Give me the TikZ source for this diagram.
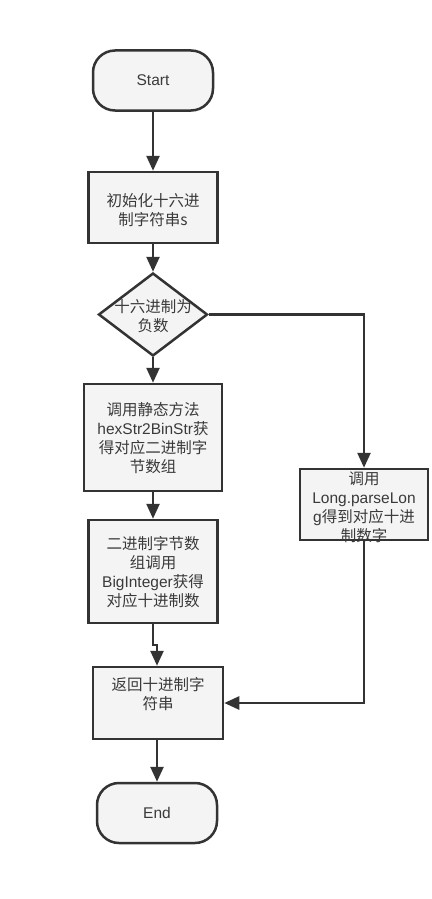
\documentclass[tikz,border=0pt]{standalone}
\usepackage{fontspec}
\setmainfont{Liberation Sans}
\newfontfamily\cjk{Noto Sans CJK SC}
\usetikzlibrary{arrows.meta,shapes.geometric}
\definecolor{edge}{HTML}{333333}
\definecolor{boxfill}{HTML}{F4F4F4}
\definecolor{txt}{HTML}{3A3A3A}
\tikzset{
  base/.style={draw=edge, line width=2.5pt, fill=boxfill, inner sep=0pt},
  terminal/.style={base, rounded corners=22pt, minimum width=120pt, minimum height=60pt},
  procbox/.style={base, rectangle},
  label/.style={text=txt, align=center, font=\fontsize{15.5}{19}\selectfont, inner sep=0pt},
  flow/.style={draw=edge, line width=2.5pt, -{Triangle[length=15pt,width=13pt]}},
}
\begin{document}
\begin{tikzpicture}[x=1pt, y=-1pt]
\useasboundingbox (0,0) rectangle (431,899);

% terminals
\node[terminal] (start) at (153,80.5) {};
\node[label] at (start) {Start};
\node[terminal] (stop) at (157,813) {};
\node[label] at (stop) {End};

% process boxes
\node[procbox, minimum width=129pt, minimum height=71pt] (init) at (153,207.5) {};
\node[label] at (153,210) {\cjk 初始化十六进\\\cjk 制字符串{s}};

\node[base, diamond, minimum width=109pt, minimum height=83pt] (neg) at (153,314.5) {};
\node[label] at (153,316) {\cjk 十六进制为\\\cjk 负数};

\node[procbox, minimum width=138pt, minimum height=107pt] (hex) at (153,437.5) {};
\node[label] at (153,438) {\cjk 调用静态方法\\hexStr2BinStr{\cjk 获}\\\cjk 得对应二进制字\\\cjk 节数组};

\node[procbox, minimum width=128pt, minimum height=71pt] (long) at (364,504.5) {};
\node[label] at (364,507) {\cjk 调用\\Long.parseLon\\g{\cjk 得到对应十进}\\\cjk 制数字};

\node[procbox, minimum width=129pt, minimum height=103pt] (big) at (153,571.5) {};
\node[label] at (153,572) {\cjk 二进制字节数\\\cjk 组调用\\BigInteger{\cjk 获得}\\\cjk 对应十进制数};

\node[procbox, minimum width=130pt, minimum height=72pt] (ret) at (158,703) {};
\node[label] at (158,694) {\cjk 返回十进制字\\\cjk 符串};

% connectors
\coordinate (jogA) at (153,645);
\coordinate (jogB) at (157,645);
\coordinate (turnR) at (364,314.5);
\coordinate (turnD) at (364,703);

\draw[flow] (start.south) -- (init.north);
\draw[flow] (init.south) -- (neg.north);
\draw[flow] (neg.south) -- (hex.north);
\draw[flow] (neg.east) -- (turnR) -- (long.north);
\draw[flow] (hex.south) -- (big.north);
\draw[flow] (big.south) -- (jogA) -- (jogB) -- (ret.north -| jogB);
\draw[flow] (long.south) -- (turnD) -- (ret.east);
\draw[flow] (ret.south -| stop.north) -- (stop.north);
\end{tikzpicture}
\end{document}
